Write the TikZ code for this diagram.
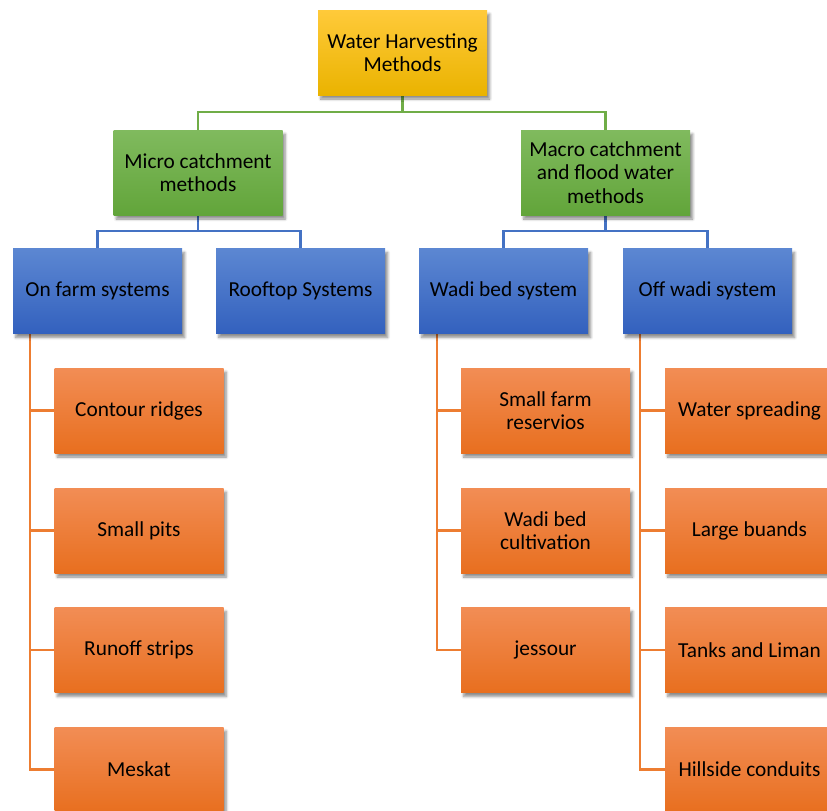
\documentclass[tikz,border=0pt]{standalone}
\usepackage{fontspec}
\setmainfont{Carlito}
\usetikzlibrary{shadows.blur}
\definecolor{goldT}{HTML}{FFCA3A}
\definecolor{goldB}{HTML}{EAB300}
\definecolor{greenT}{HTML}{80BA5E}
\definecolor{greenB}{HTML}{62A53A}
\definecolor{blueT}{HTML}{5C87D2}
\definecolor{blueB}{HTML}{3361BE}
\definecolor{orT}{HTML}{F28D55}
\definecolor{orB}{HTML}{E86F1F}
\definecolor{gline}{HTML}{70AD47}
\definecolor{bline}{HTML}{4472C4}
\definecolor{oline}{HTML}{ED7D31}
\tikzset{
  boxbase/.style={rectangle, minimum width=126.75pt, minimum height=63.75pt, inner sep=2pt,
    align=center, font=\fontsize{16}{17.4}\selectfont, text=black,
    blur shadow={shadow xshift=2pt, shadow yshift=-3pt, shadow blur steps=6, shadow opacity=45}},
  goldbox/.style={boxbase, top color=goldT, bottom color=goldB},
  greenbox/.style={boxbase, top color=greenT, bottom color=greenB},
  bluebox/.style={boxbase, top color=blueT, bottom color=blueB},
  orbox/.style={boxbase, top color=orT, bottom color=orB},
  gconn/.style={draw=gline, line width=2pt},
  bconn/.style={draw=bline, line width=2pt},
  oconn/.style={draw=oline, line width=1.8pt},
}
\begin{document}
\begin{tikzpicture}[x=0.75pt, y=-0.75pt]
\useasboundingbox (0,0) rectangle (827,810);
\clip (0,0) rectangle (827,810);
% connectors first
\coordinate (tS) at (402.5,95);
\coordinate (g1N) at (198,130);
\coordinate (g2N) at (605.5,130);
\coordinate (g1S) at (198,215);
\coordinate (g2S) at (605.5,215);
\coordinate (b1N) at (97.5,249);
\coordinate (b2N) at (300.5,249);
\coordinate (b3N) at (503.5,249);
\coordinate (b4N) at (707.5,249);
\draw[gconn] (tS) -- ++(0,17) -| (g1N);
\draw[gconn] (tS) -- ++(0,17) -| (g2N);
\draw[bconn] (g1S) -- ++(0,16) -| (b1N);
\draw[bconn] (g1S) -- ++(0,16) -| (b2N);
\draw[bconn] (g2S) -- ++(0,16) -| (b3N);
\draw[bconn] (g2S) -- ++(0,16) -| (b4N);
% orange trunks
\coordinate (t1) at (30,333);
\coordinate (t3) at (437,333);
\coordinate (t4) at (640,333);
\coordinate (l1) at (55,410.5);
\coordinate (l2) at (55,530.5);
\coordinate (l3) at (55,650);
\coordinate (l4) at (55,769.5);
\coordinate (m1) at (461,410.5);
\coordinate (m2) at (461,530.5);
\coordinate (m3) at (461,650);
\coordinate (r1) at (665,410.5);
\coordinate (r2) at (665,530.5);
\coordinate (r3) at (665,650);
\coordinate (r4) at (665,769.5);
\foreach \e in {l1,l2,l3,l4} \draw[oconn] (t1) |- (\e);
\foreach \e in {m1,m2,m3} \draw[oconn] (t3) |- (\e);
\foreach \e in {r1,r2,r3,r4} \draw[oconn] (t4) |- (\e);
% nodes
\node[goldbox] (top) at (402.5,52.5) {Water Harvesting\\Methods};
\node[greenbox] (g1) at (198,172.5) {Micro catchment\\methods};
\node[greenbox] (g2) at (605.5,172.5) {Macro catchment\\and flood water\\methods};
\node[bluebox] (b1) at (97.5,291) {On farm systems};
\node[bluebox] (b2) at (300.5,291) {Rooftop Systems};
\node[bluebox] (b3) at (503.5,291) {Wadi bed system};
\node[bluebox] (b4) at (707.5,291) {Off wadi system};
\node[orbox] (o1) at (139,410.5) {Contour ridges};
\node[orbox] (o2) at (139,530.5) {Small pits};
\node[orbox] (o3) at (139,650) {Runoff strips};
\node[orbox] (o4) at (139,769.5) {Meskat};
\node[orbox] (w1) at (545.5,410.5) {Small farm\\reservios};
\node[orbox] (w2) at (545.5,530.5) {Wadi bed\\cultivation};
\node[orbox] (w3) at (545.5,650) {jessour};
\node[orbox] (f1) at (749.5,410.5) {Water spreading};
\node[orbox] (f2) at (749.5,530.5) {Large buands};
\node[orbox] (f3) at (749.5,650) {Tanks and Liman};
\node[orbox] (f4) at (749.5,769.5) {Hillside conduits};
\end{tikzpicture}
\end{document}
